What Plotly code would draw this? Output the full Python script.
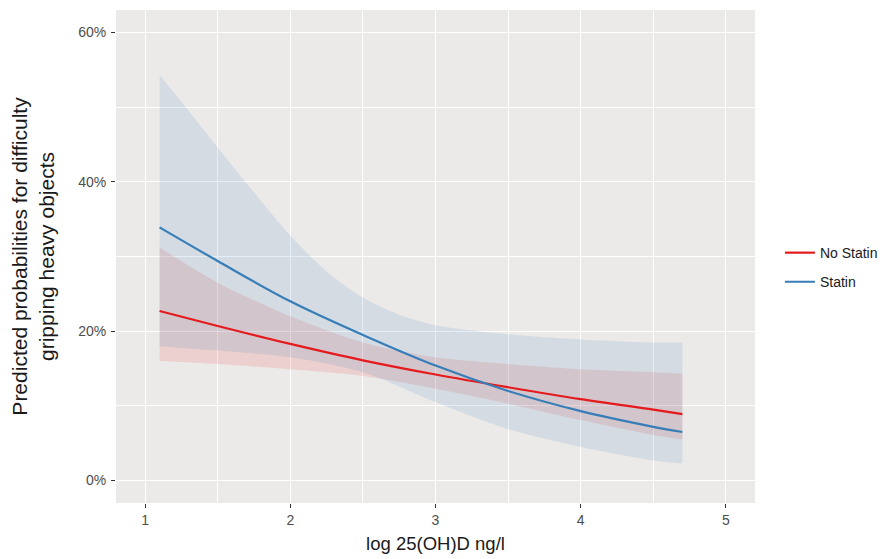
import plotly.graph_objects as go

# Data (percent)
x = [1.1, 1.5, 2.0, 2.5, 3.0, 3.5, 4.0, 4.5, 4.7]

statin_fit = [33.9, 29.4, 24.0, 19.5, 15.4, 12.0, 9.3, 7.2, 6.5]
statin_lower = [18.0, 17.4, 16.5, 14.5, 10.5, 6.9, 4.5, 2.7, 2.3]
statin_upper_x = [1.1, 1.3, 1.5, 1.75, 2.0, 2.25, 2.5, 2.75, 3.0, 3.5, 4.0, 4.5, 4.7]
statin_upper = [54.3, 49.5, 44.6, 38.6, 32.8, 28.0, 24.5, 22.2, 20.8, 19.6, 18.9, 18.5, 18.5]

nostatin_fit = [22.7, 20.7, 18.3, 16.1, 14.2, 12.5, 10.9, 9.5, 8.9]
nostatin_upper = [31.2, 26.5, 22.0, 18.5, 16.5, 15.6, 14.9, 14.5, 14.3]
nostatin_lower = [16.0, 15.6, 14.9, 14.0, 12.3, 10.3, 8.1, 6.1, 5.5]

x_ticks = [1, 2, 3, 4, 5]
y_ticks = [0, 20, 40, 60]
y_tick_labels = ["0%", "20%", "40%", "60%"]

RED = "#E41A1C"
BLUE = "#377EB8"
RED_FILL = "rgba(228,26,28,0.12)"
BLUE_FILL = "rgba(55,126,184,0.13)"
FONT = "Liberation Sans, Arial"

fig = go.Figure()

# Ribbons
for lo_x, lo, hi_x, hi, fc in [(x, nostatin_lower, x, nostatin_upper, RED_FILL),
                               (x, statin_lower, statin_upper_x, statin_upper, BLUE_FILL)]:
    fig.add_trace(go.Scatter(x=lo_x, y=lo, mode="lines",
                             line=dict(width=0, shape="spline", smoothing=0.8),
                             showlegend=False, hoverinfo="skip"))
    fig.add_trace(go.Scatter(x=hi_x, y=hi, mode="lines",
                             line=dict(width=0, shape="spline", smoothing=0.8),
                             fill="tonexty", fillcolor=fc, showlegend=False, hoverinfo="skip"))

# Fitted lines
fig.add_trace(go.Scatter(x=x, y=nostatin_fit, mode="lines", name="No Statin",
                         line=dict(color=RED, width=2.2, shape="spline"), legend="legend"))
fig.add_trace(go.Scatter(x=x, y=statin_fit, mode="lines", name="Statin",
                         line=dict(color=BLUE, width=2.2, shape="spline"), legend="legend2"))

axis_common = dict(
    showgrid=True, gridcolor="white", gridwidth=1.4,
    zeroline=False, showline=False, automargin=False,
    ticks="outside", ticklen=4, tickwidth=1, tickcolor="#333333",
    tickfont=dict(family=FONT, size=14, color="#4D4D4D"),
)

fig.update_xaxes(
    range=[0.8, 5.2], tickvals=x_ticks,
    minor=dict(dtick=0.5, tick0=0.5, showgrid=True, gridcolor="white", gridwidth=0.7, ticks=""),
    title=dict(text="log 25(OH)D ng/l", font=dict(family=FONT, size=18.5, color="#1A1A1A"),
               standoff=10),
    **axis_common,
)
fig.update_yaxes(
    range=[-3, 63], tickvals=y_ticks, ticktext=y_tick_labels, ticklabelstandoff=2,
    minor=dict(dtick=10, tick0=10, showgrid=True, gridcolor="white", gridwidth=0.7, ticks=""),
    title=dict(text="Predicted probabilities for difficulty<br>gripping heavy objects",
               font=dict(family=FONT, size=21, color="#1A1A1A"), standoff=18),
    **axis_common,
)

legend_style = dict(font=dict(family=FONT, size=14, color="#1A1A1A"),
                    bgcolor="rgba(0,0,0,0)", xanchor="left", yanchor="middle",
                    itemwidth=30)

# the page body adds an 8px margin, so the figure is 8px smaller in each direction
fig.update_layout(
    width=877, height=551,
    margin=dict(l=108, r=127, t=2, b=56),
    paper_bgcolor="white",
    plot_bgcolor="#ECEAE9",
    showlegend=True,
    legend=dict(x=1.039, y=0.507, **legend_style),
    legend2=dict(x=1.039, y=0.448, **legend_style),
)

fig.write_html("out.html")
